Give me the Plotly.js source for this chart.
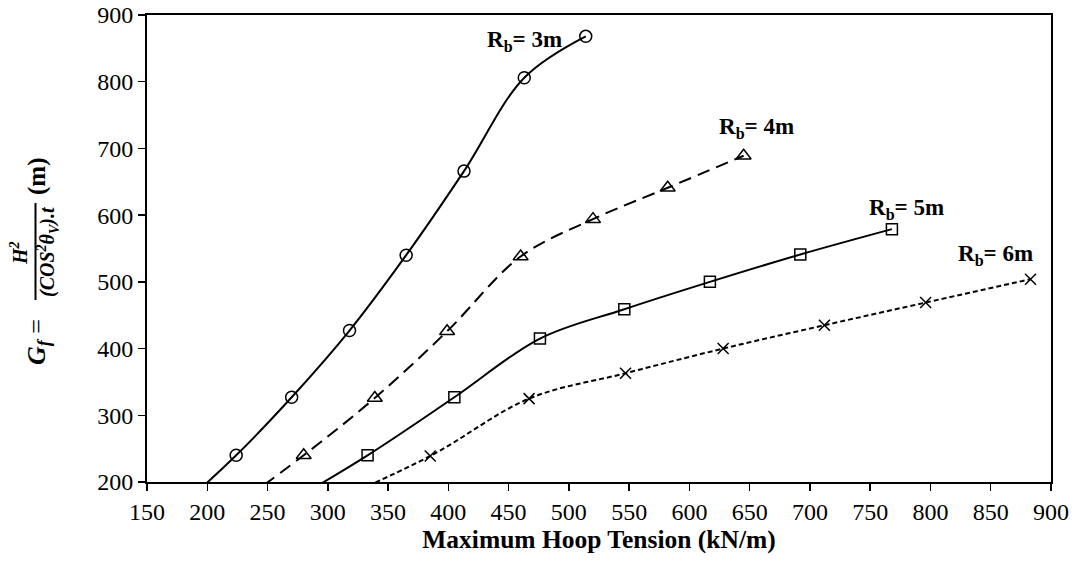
<!DOCTYPE html>
<html>
<head>
<meta charset="utf-8">
<script src="https://cdn.plot.ly/plotly-3.0.1.min.js"></script>
<style>html,body{margin:0;padding:0;background:#fff;}#chart{width:1077px;height:566px;}</style>
</head>
<body>
<div id="chart"></div>
<script>
// Data (first point of each series lies below the visible y range)
const tension_Rb3 = [176, 224, 270, 318, 365, 413, 463, 514];
const gf_Rb3      = [160, 240, 327, 427, 540, 666, 806, 868];
const tension_Rb4 = [220, 280, 339, 399, 460, 520, 582, 645];
const gf_Rb4      = [160, 240, 326, 426, 538, 594, 641, 689];
const tension_Rb5 = [259, 333, 405, 476, 546, 617, 692, 768];
const gf_Rb5      = [160, 240, 327, 415, 459, 500, 541, 579];
const tension_Rb6 = [291, 385, 467, 547, 628, 712, 796, 883];
const gf_Rb6      = [160, 239, 325, 363, 400, 435, 469, 504];
const seriesLabels = ['R<sub>b</sub>= 3m', 'R<sub>b</sub>= 4m', 'R<sub>b</sub>= 5m', 'R<sub>b</sub>= 6m'];
const xTicks = [150, 200, 250, 300, 350, 400, 450, 500, 550, 600, 650, 700, 750, 800, 850, 900];
const yTicks = [200, 300, 400, 500, 600, 700, 800, 900];

const FONT = "'Liberation Serif', 'Times New Roman', Times, 'DejaVu Serif', serif";

function mk(x, y, name, dash, symbol, msize) {
  return {
    x: x, y: y, name: name, type: 'scatter', mode: 'lines+markers',
    line: {color: '#000', width: 2, dash: dash, shape: 'spline', smoothing: 1},
    marker: {symbol: symbol, size: msize, color: '#000', line: {color: '#000', width: 1.5}},
    cliponaxis: true, showlegend: false
  };
}

const traces = [
  mk(tension_Rb3, gf_Rb3, seriesLabels[0], 'solid', 'circle-open', 12),
  mk(tension_Rb4, gf_Rb4, seriesLabels[1], '13px,7px', 'triangle-up-open', 13),
  mk(tension_Rb5, gf_Rb5, seriesLabels[2], 'solid', 'square-open', 11),
  mk(tension_Rb6, gf_Rb6, seriesLabels[3], '5px,3px', 'x-thin-open', 11)
];

const L = 147, R = 1051, T = 15, B = 482;
const px = v => (v - L) / (R - L);
const py = v => (B - v) / (B - T);

const annFont = {family: FONT, size: 23, color: '#000'};
const annotations = [
  {x: 463.5, y: 861, xref: 'x', yref: 'y', text: '<b>' + seriesLabels[0] + '</b>', showarrow: false, font: annFont},
  {x: 656, y: 731, xref: 'x', yref: 'y', text: '<b>' + seriesLabels[1] + '</b>', showarrow: false, font: annFont},
  {x: 780, y: 609, xref: 'x', yref: 'y', text: '<b>' + seriesLabels[2] + '</b>', showarrow: false, font: annFont},
  {x: 854, y: 540, xref: 'x', yref: 'y', text: '<b>' + seriesLabels[3] + '</b>', showarrow: false, font: annFont},
  // composite y-axis title, rotated
  {x: px(38), y: py(342), xref: 'paper', yref: 'paper', xanchor: 'center', yanchor: 'middle', textangle: -90, showarrow: false,
   text: '<b><i>G<sub>f</sub></i></b> =', font: {family: FONT, size: 26, color: '#000'}},
  {x: px(19), y: py(253), xref: 'paper', yref: 'paper', xanchor: 'center', yanchor: 'middle', textangle: -90, showarrow: false,
   text: '<b><i>H<sup>2</sup></i></b>', font: {family: FONT, size: 20, color: '#000'}},
  {x: px(48), y: py(252), xref: 'paper', yref: 'paper', xanchor: 'center', yanchor: 'middle', textangle: -90, showarrow: false,
   text: '<b><i>(COS<sup>2</sup>θ<sub>V</sub>).t</i></b>', font: {family: FONT, size: 20, color: '#000'}},
  {x: px(37), y: py(177), xref: 'paper', yref: 'paper', xanchor: 'center', yanchor: 'middle', textangle: -90, showarrow: false,
   text: '<b>(m)</b>', font: {family: FONT, size: 25, color: '#000'}}
];

const shapes = [
  {type: 'line', xref: 'paper', yref: 'paper', x0: px(35.5), x1: px(35.5), y0: py(300), y1: py(203),
   line: {color: '#000', width: 2}}
];

const layout = {
  width: 1077, height: 566,
  margin: {l: L, r: 1077 - R, t: T, b: 566 - B},
  paper_bgcolor: '#fff', plot_bgcolor: '#fff',
  font: {family: FONT, size: 24, color: '#000'},
  xaxis: {
    range: [150, 900], tickvals: xTicks, ticktext: xTicks.map(String),
    showgrid: false, zeroline: false, showline: true, linecolor: '#000', linewidth: 2, mirror: true,
    ticks: 'outside', ticklen: 7, tickwidth: 1.5, tickcolor: '#000',
    tickfont: {family: FONT, size: 24, color: '#000'},
    title: {text: '<b>Maximum Hoop Tension (kN/m)</b>', font: {family: FONT, size: 25.5, color: '#000'}, standoff: 4},
    automargin: false
  },
  yaxis: {
    range: [200, 900], tickvals: yTicks, ticktext: yTicks.map(String),
    showgrid: false, zeroline: false, showline: true, linecolor: '#000', linewidth: 2, mirror: true,
    ticks: 'outside', ticklen: 7, tickwidth: 1.5, tickcolor: '#000',
    tickfont: {family: FONT, size: 24, color: '#000'},
    automargin: false
  },
  annotations: annotations,
  shapes: shapes,
  showlegend: false
};

Plotly.newPlot('chart', traces, layout, {displayModeBar: false, staticPlot: true});
</script>
</body>
</html>
